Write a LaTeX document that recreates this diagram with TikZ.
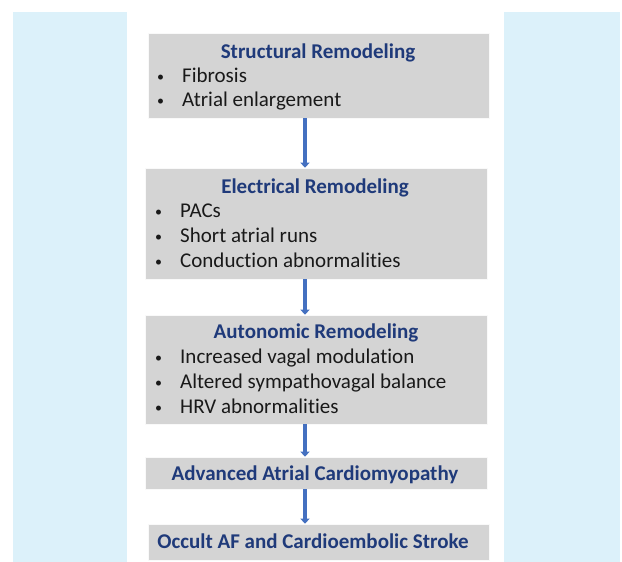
\documentclass[tikz,border=0pt]{standalone}
\usepackage{fontspec}
\setmainfont{Carlito}[Ligatures=NoCommon]
\usetikzlibrary{arrows.meta}

\definecolor{stripblue}{HTML}{DCF1FA}
\definecolor{boxgray}{HTML}{D4D4D4}
\definecolor{titleblue}{HTML}{1F3A7A}
\definecolor{arrowblue}{HTML}{4470C0}

\tikzset{
  box/.style={rectangle, fill=boxgray, draw=white!85!boxgray, line width=0.6pt, inner sep=0pt},
  boxtitle/.style={anchor=base, inner sep=0pt, text=titleblue, font=\fontsize{21}{24}\selectfont\bfseries},
  item/.style={anchor=base west, inner sep=0pt, text=black!90, font=\fontsize{21}{24}\selectfont},
  flow/.style={draw=arrowblue, line width=3.6pt, -{Triangle[width=9pt,length=5pt]}}
}
\newcommand{\blt}{\makebox[25pt][l]{\raisebox{1pt}{\fontsize{14}{14}\selectfont\textbullet}}}

\begin{document}
\begin{tikzpicture}[x=1pt, y=-1pt]
  \useasboundingbox (0,0) rectangle (622,562);

  % side strips
  \fill[stripblue] (13,12) rectangle (127,562);
  \fill[stripblue] (504,12) rectangle (620,562);

  % boxes
  \node[box, minimum width=341pt, minimum height=85pt]  (sr) at (318.5,75.5) {};
  \node[box, minimum width=342pt, minimum height=111pt] (er) at (316,223.5) {};
  \node[box, minimum width=342pt, minimum height=109pt] (ar) at (316,369.5) {};
  \node[box, minimum width=342pt, minimum height=32pt]  (ac) at (316,473) {};
  \node[box, minimum width=341pt, minimum height=36pt]  (af) at (318.5,542) {};

  % titles
  \node[boxtitle] (sr-t) at (318,58)  {Structural Remodeling};
  \node[boxtitle] (er-t) at (315,193) {Electrical Remodeling};
  \node[boxtitle] (ar-t) at (316,338) {Autonomic Remodeling};
  \node[boxtitle] (ac-t) at (315,480) {Advanced Atrial Cardiomyopathy};
  \node[boxtitle] (af-t) at (313,548) {Occult AF and Cardioembolic Stroke};

  % bullet lists
  \foreach \txt [count=\i] in {Fibrosis, Atrial enlargement}
    \node[item] (sr-\i) at (157,58+24*\i) {\blt\txt};
  \foreach \txt [count=\i] in {PACs, Short atrial runs, Conduction abnormalities}
    \node[item] (er-\i) at (155,192+25*\i) {\blt\txt};
  \foreach \txt [count=\i] in {Increased vagal modulation, Altered sympathovagal balance, HRV abnormalities}
    \node[item] (ar-\i) at (155,338+25*\i) {\blt\txt};

  % arrows between boxes
  \draw[flow] ([xshift=-13.5pt]sr.south) -- ([xshift=-11pt]er.north);
  \draw[flow] ([xshift=-11pt]er.south) -- ([xshift=-11pt]ar.north);
  \draw[flow] ([xshift=-11pt]ar.south) -- ([xshift=-11pt]ac.north);
  \draw[flow] ([xshift=-11pt]ac.south) -- ([xshift=-13.5pt]af.north);

\end{tikzpicture}
\end{document}
